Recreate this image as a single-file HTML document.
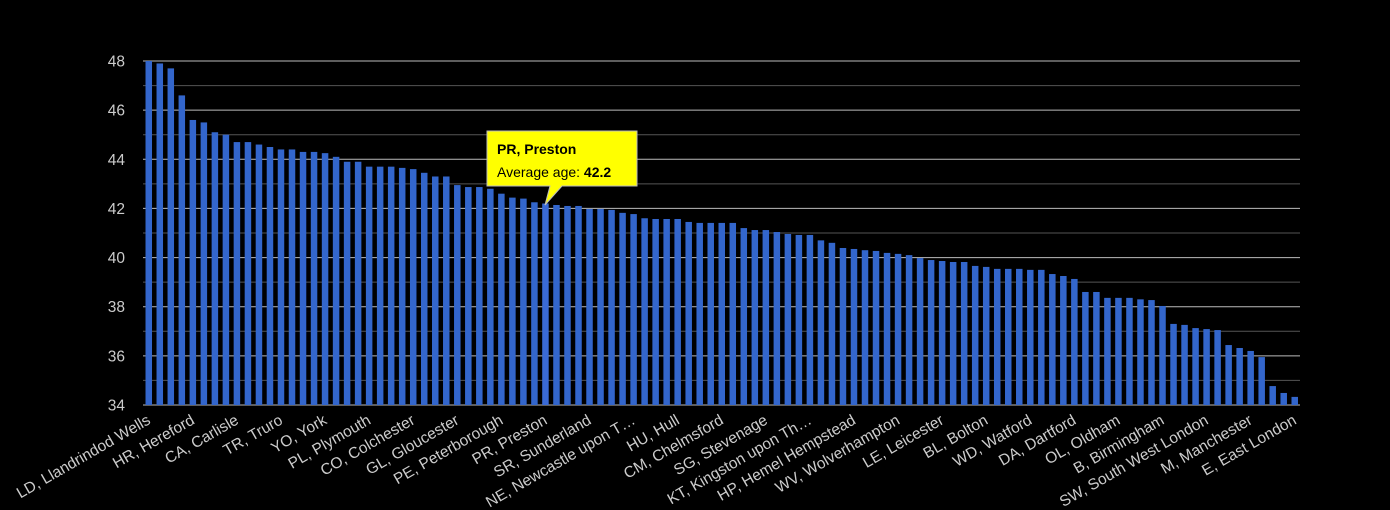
<!DOCTYPE html>
<html><head><meta charset="utf-8"><style>
html,body{margin:0;padding:0;background:#000;width:1390px;height:510px;overflow:hidden}
svg{display:block;font-family:"Liberation Sans",Arial,sans-serif}
</style></head><body>
<svg id="chart" width="1390" height="510" viewBox="0 0 1390 510">
<g id="grid"></g>
<g id="yaxis"></g>
<g id="bars"></g>
<g id="xaxis"></g>
<g>
<path d="M487,131 H637 V186 H562 L545,205 L550,186 H487 Z" fill="#ffff00" stroke="#bbb" stroke-width="1"/>
<text x="497" y="154" font-size="14" font-weight="bold" fill="#000">PR, Preston</text>
<text x="497" y="177" font-size="14" fill="#000">Average age: <tspan font-weight="bold">42.2</tspan></text>
</g>
</svg>
<script>
const values=[48.0,47.9,47.7,46.6,45.6,45.5,45.1,45.0,44.7,44.7,44.6,44.5,44.4,44.4,44.3,44.3,44.25,44.1,43.9,43.9,43.7,43.7,43.7,43.65,43.6,43.45,43.3,43.3,42.95,42.87,42.87,42.8,42.6,42.44,42.4,42.25,42.2,42.14,42.1,42.1,41.98,41.98,41.94,41.82,41.77,41.6,41.57,41.57,41.57,41.45,41.41,41.41,41.41,41.41,41.2,41.12,41.12,41.04,40.96,40.92,40.92,40.7,40.6,40.39,40.35,40.3,40.27,40.19,40.15,40.1,39.98,39.9,39.86,39.82,39.82,39.66,39.62,39.54,39.54,39.54,39.5,39.5,39.33,39.25,39.13,38.6,38.6,38.36,38.36,38.36,38.3,38.27,38.03,37.3,37.26,37.13,37.09,37.05,36.44,36.32,36.2,35.95,34.77,34.49,34.33];
const labels=["LD, Llandrindod Wells","HR, Hereford","CA, Carlisle","TR, Truro","YO, York","PL, Plymouth","CO, Colchester","GL, Gloucester","PE, Peterborough","PR, Preston","SR, Sunderland","NE, Newcastle upon T…","HU, Hull","CM, Chelmsford","SG, Stevenage","KT, Kingston upon Th…","HP, Hemel Hempstead","WV, Wolverhampton","LE, Leicester","BL, Bolton","WD, Watford","DA, Dartford","OL, Oldham","B, Birmingham","SW, South West London","M, Manchester","E, East London"];
const yTicks=[34,36,38,40,42,44,46,48];
const NS="http://www.w3.org/2000/svg";
const x0=143,x1=1300,yMin=34,yMax=48,py0=405,py1=61;
const step=(x1-x0)/values.length;
function y(v){return py0-(v-yMin)/(yMax-yMin)*(py0-py1);}
function xc(i){return x0+step*(i+0.5);}
function mk(tag,attrs,parent){const e=document.createElementNS(NS,tag);for(const k in attrs)e.setAttribute(k,attrs[k]);parent.appendChild(e);return e;}
const grid=document.getElementById('grid'),ya=document.getElementById('yaxis'),bars=document.getElementById('bars'),xa=document.getElementById('xaxis');
for(let v=yMin;v<=yMax;v++){
  const l=mk('line',{x1:x0,x2:x1,y1:y(v),y2:y(v),stroke:v%2===0?'#bbb':'#555','stroke-width':1},grid);
  
  
}
yTicks.forEach(t=>{
  const e=mk('text',{x:125,y:y(t)+5.5,'text-anchor':'end','font-size':15.5,fill:'#ccc'},ya);
  e.textContent=t;
  
  
});
values.forEach((v,i)=>{
  const r=mk('rect',{x:xc(i)-3,y:y(v),width:6.5,height:py0-y(v),fill:i===36?'#3a6ad6':'#3366cc'},bars);
  
  
});
labels.forEach((s,j)=>{
  const cx=xc(j*4)+3;
  const t=mk('text',{x:cx,y:423,'text-anchor':'end','font-size':15.5,fill:'#ccc',transform:`rotate(-30 ${cx} 423)`},xa);
  t.textContent=s;
  
  
});
</script>
</body></html>
